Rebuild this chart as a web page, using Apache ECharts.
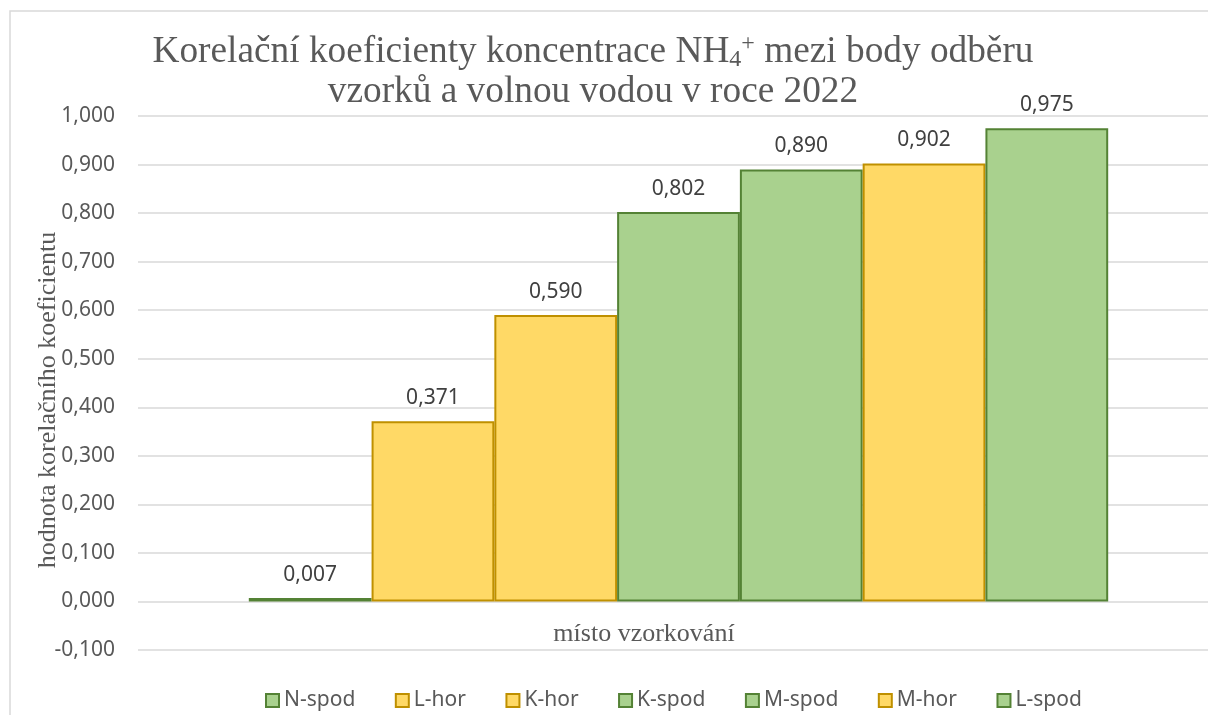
<!DOCTYPE html>
<html>
<head>
<meta charset="utf-8">
<script src="https://cdn.jsdelivr.net/npm/echarts@6/dist/echarts.min.js"></script>
<style>
  html, body { margin: 0; padding: 0; background: #fff; overflow: hidden; }
  #chart { width: 1230px; height: 715px; }
</style>
</head>
<body>
<div id="chart"></div>
<script>
// data
const sites = ['N-spod', 'L-hor', 'K-hor', 'K-spod', 'M-spod', 'M-hor', 'L-spod']
const coefs = [0.007, 0.371, 0.590, 0.802, 0.890, 0.902, 0.975]
const kinds = ['spod', 'hor', 'hor', 'spod', 'spod', 'hor', 'spod']
const category = ['místo vzorkování']

const palette = {
  spod: { fill: '#A9D18E', border: '#548235' },
  hor: { fill: '#FFD966', border: '#BF9000' }
}

const fmt = v => v.toFixed(3).replace('.', ',')
const sans = '"Noto Sans", sans-serif'
const serif = '"Liberation Serif", "DejaVu Serif", serif'

const chart = echarts.init(document.getElementById('chart'))

const series = sites.map((name, i) => ({
  name,
  type: 'bar',
  data: [coefs[i]],
  barGap: '0%',
  barCategoryGap: '20.5%',
  itemStyle: {
    color: palette[kinds[i]].fill,
    borderColor: palette[kinds[i]].border,
    borderWidth: 2
  },
  label: {
    show: true,
    position: 'top',
    distance: 13,
    formatter: p => fmt(p.value),
    color: '#404040',
    fontFamily: sans,
    fontSize: 21
  }
}))

const titleFont = { fontFamily: serif, fontWeight: 'normal', color: '#595959' }

chart.setOption({
  animation: false,
  title: {
    text: '{a|Korelační koeficienty koncentrace NH}{sub|4}{sup|+}{a| mezi body odběru}\n{a|vzorků a volnou vodou v roce 2022}',
    left: 588,
    top: 27,
    textAlign: 'center',
    textStyle: {
      fontWeight: 'normal',
      rich: {
        a: Object.assign({ fontSize: 37.3, lineHeight: 40 }, titleFont),
        sub: Object.assign({ fontSize: 24, verticalAlign: 'bottom', lineHeight: 20 }, titleFont),
        sup: Object.assign({ fontSize: 24, verticalAlign: 'top', lineHeight: 24 }, titleFont)
      }
    }
  },
  grid: {
    left: 138,
    right: 11,
    top: 116,
    bottom: 65
  },
  legend: {
    bottom: 4,
    left: 265,
    padding: 0,
    icon: 'rect',
    itemWidth: 13,
    itemHeight: 13,
    itemGap: 39.5,
    textStyle: { color: '#595959', fontFamily: sans, fontSize: 21 },
    data: sites
  },
  xAxis: {
    type: 'category',
    data: category,
    axisLine: { show: false },
    axisTick: { show: false },
    axisLabel: { show: false }
  },
  yAxis: {
    type: 'value',
    min: -0.1,
    max: 1.0,
    interval: 0.1,
    axisLine: { show: false },
    axisTick: { show: false },
    axisLabel: {
      formatter: v => fmt(v),
      color: '#595959',
      fontFamily: sans,
      fontSize: 21,
      margin: 23
    },
    splitLine: { lineStyle: { color: '#d9d9d9', width: 1.5 } }
  },
  graphic: [
    {
      type: 'rect',
      silent: true,
      shape: { x: 10, y: 11, width: 1250, height: 730 },
      style: { fill: null, stroke: '#d9d9d9', lineWidth: 1.5 },
      z: -1
    },
    {
      type: 'text',
      x: 48,
      y: 400,
      rotation: Math.PI / 2,
      style: {
        text: 'hodnota korelačního koeficientu',
        font: '26px ' + serif,
        fill: '#595959',
        textAlign: 'center',
        textVerticalAlign: 'middle'
      }
    },
    {
      type: 'text',
      x: 644,
      y: 634,
      style: {
        text: 'místo vzorkování',
        font: '26px ' + serif,
        fill: '#595959',
        textAlign: 'center',
        textVerticalAlign: 'middle'
      }
    }
  ],
  series
})
</script>
</body>
</html>
